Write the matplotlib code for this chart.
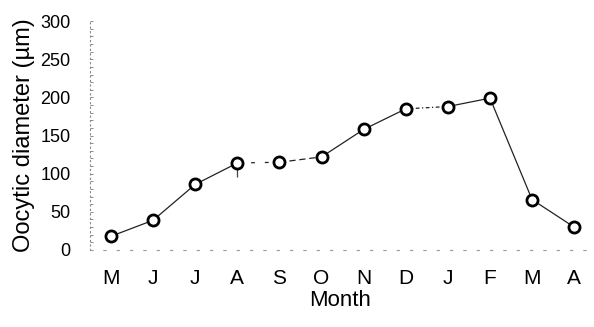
import matplotlib.pyplot as plt
import numpy as np

plt.rcParams['font.family'] = ['Liberation Sans', 'DejaVu Sans']

months = ['M', 'J', 'J', 'A', 'S', 'O', 'N', 'D', 'J', 'F', 'M', 'A']
diameter = [18, 39, 86, 114, 115, 122, 158, 185, 188, 199, 66, 30]
err_low = [8, 8, 8, 18, 7, 7, 7, 7, 7, 7, 7, 7]
err_high = [8, 7, 7, 8, 7, 7, 7, 7, 7, 7, 7, 7]
# line style of the segment joining month i to month i+1
seg_styles = ['-', '-', '-', (0, (3, 8)), (0, (5, 3)), '-', '-', (0, (3, 2, 1, 2)), '-', '-', '-']

x = np.arange(len(months))

fig = plt.figure(figsize=(5.94, 3.27), dpi=100)
ax = fig.add_axes([0.1515, 0.2355, 0.8435, 0.70])

for i, ls in enumerate(seg_styles):
    ax.plot(x[i:i + 2], diameter[i:i + 2], color='#222222', lw=0.9, ls=ls, zorder=2)

ax.errorbar(x, diameter, yerr=[err_low, err_high], fmt='none', ecolor='#444444',
            elinewidth=0.9, capsize=0, zorder=3)
ax.plot(x, diameter, ls='none', marker='o', ms=8, mfc='white', mec='black', mew=2.0, zorder=4)

ax.set_xlim(-0.5, 11.4)
ax.set_ylim(0, 300)
ax.set_xticks(x)
ax.set_xticklabels(months)
ax.set_yticks(np.arange(0, 301, 50))
ax.set_yticks(np.arange(0, 301, 10), minor=True)
ax.tick_params(axis='y', labelsize=13)
ax.tick_params(axis='x', labelsize=15, length=0, pad=14)
ax.tick_params(axis='y', which='both', direction='in', length=2, width=0.6, color='#777777', pad=14)

for s in ['top', 'right']:
    ax.spines[s].set_visible(False)
ax.spines['left'].set_linestyle((0, (1, 3)))
ax.spines['left'].set_color('#888888')
ax.spines['left'].set_linewidth(0.8)
ax.spines['bottom'].set_linestyle((0, (2, 10)))
ax.spines['bottom'].set_color('#999999')
ax.spines['bottom'].set_linewidth(0.8)

ax.set_ylabel('Oocytic diameter (\u00b5m)', fontsize=17, labelpad=4)
ax.set_xlabel('Month', fontsize=16, labelpad=1)

fig.savefig('out.png', dpi=100)
